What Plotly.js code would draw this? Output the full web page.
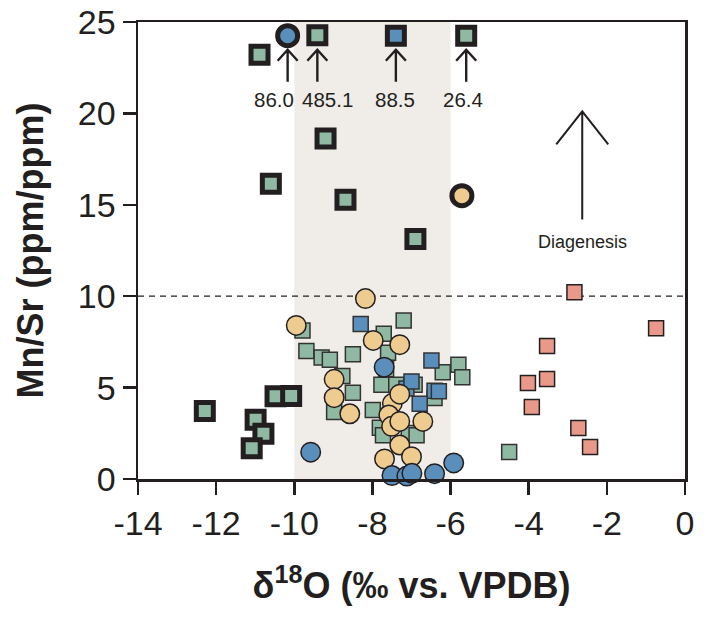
<!DOCTYPE html>
<html>
<head>
<meta charset="utf-8">
<script src="https://cdn.plot.ly/plotly-3.0.1.min.js"></script>
<style>html,body{margin:0;padding:0;background:#fff;}#chart{width:718px;height:617px;}</style>
</head>
<body>
<div id="chart"></div>
<script>
// ---- data ----
const xTicks = [-14, -12, -10, -8, -6, -4, -2, 0];
const xTickLabels = ["-14", "-12", "-10", "-8", "-6", "-4", "-2", "0"];
const yTicks = [0, 5, 10, 15, 20, 25];
const yTickLabels = ["0", "5", "10", "15", "20", "25"];

const greenSqX = [-9.79, -7.20, -7.71, -9.69, -9.30, -9.09, -8.50, -7.60, -7.65, -8.77, -8.50, -8.98, -7.99, -7.77, -7.39, -6.92, -5.80, -6.20, -5.70, -6.41, -7.81, -7.73, -7.07, -6.87, -4.50];
const greenSqY = [8.13, 8.67, 7.95, 7.00, 6.65, 6.53, 6.83, 6.90, 6.00, 5.64, 4.72, 3.67, 3.77, 5.16, 5.16, 5.16, 6.25, 5.84, 5.56, 4.43, 2.80, 2.40, 2.52, 2.40, 1.48];

const blueSqX = [-8.30, -6.49, -7.13, -7.00, -6.41, -6.30, -6.79];
const blueSqY = [8.48, 6.48, 4.95, 5.34, 4.83, 4.80, 4.12];

const tanCircX = [-8.18, -9.95, -7.98, -7.30, -8.98, -8.98, -8.58, -7.49, -7.30, -7.58, -7.51, -7.30, -6.71, -7.30, -7.69, -7.00];
const tanCircY = [9.87, 8.40, 7.58, 7.35, 5.45, 4.45, 3.57, 4.14, 4.64, 3.50, 2.88, 3.15, 3.15, 1.86, 1.10, 1.22];

const blueCircX = [-7.70, -9.58, -7.50, -7.12, -6.99, -6.41, -5.92];
const blueCircY = [6.12, 1.47, 0.19, 0.16, 0.31, 0.29, 0.88];

const salmonSqX = [-2.83, -0.74, -3.53, -3.53, -4.02, -3.92, -2.73, -2.43];
const salmonSqY = [10.21, 8.24, 7.28, 5.47, 5.25, 3.94, 2.79, 1.75];

const boldGreenSqX = [-10.89, -9.41, -9.20, -10.60, -8.69, -6.90, -5.60, -12.29, -10.48, -10.08, -10.99, -10.79, -11.09];
const boldGreenSqY = [23.21, 24.27, 18.63, 16.15, 15.28, 13.13, 24.25, 3.72, 4.52, 4.54, 3.24, 2.48, 1.68];
const boldBlueSqX = [-7.40];
const boldBlueSqY = [24.25];
const boldTanSqX = [-4.21];
const boldTanSqY = [25.18];
const boldBlueCircX = [-10.17];
const boldBlueCircY = [24.25];
const boldTanCircX = [-5.71];
const boldTanCircY = [15.50];

// off-scale values marked with arrows
const offArrowX = [-10.17, -9.41, -7.40, -5.60];
const offArrowTipY = [23.48, 23.48, 23.48, 23.48];
const offLabelX = [-10.51, -9.14, -7.43, -5.67];
const offLabelY = [20.75, 20.75, 20.75, 20.75];
const offLabels = ["86.0", "485.1", "88.5", "26.4"];

const diagArrowX = -2.63;
const diagArrowTipY = 20.11;
const diagLabelY = 12.98;
const diagLabel = "Diagenesis";

const bandRange = [-10, -6];
const mnSrLimit = 10;

// ---- styles ----
const GREEN = '#8fb9a2', BLUE = '#5a8fbb', TAN = '#eecb8f', SALMON = '#e8998a', INK = '#231f20';
const FONT = 'Liberation Sans, Arial, Helvetica, sans-serif';

function mk(x, y, symbol, color, size, lw, lc) {
  return {
    type: 'scatter', mode: 'markers', x: x, y: y, cliponaxis: false, hoverinfo: 'skip',
    marker: {symbol: symbol, color: color, size: size, line: {color: lc, width: lw}}
  };
}

const traces = [
  mk(salmonSqX, salmonSqY, 'square', SALMON, 15, 1.5, INK),
  mk(greenSqX, greenSqY, 'square', GREEN, 15, 1.5, '#333'),
  mk(blueSqX, blueSqY, 'square', BLUE, 15, 1.5, '#333'),
  mk(tanCircX, tanCircY, 'circle', TAN, 19.5, 1.5, INK),
  mk(blueCircX, blueCircY, 'circle', BLUE, 19.5, 1.5, INK),
  mk(boldGreenSqX, boldGreenSqY, 'square', GREEN, 17, 5, INK),
  mk(boldBlueSqX, boldBlueSqY, 'square', BLUE, 17, 5, INK),
  mk(boldTanSqX, boldTanSqY, 'square', TAN, 17, 5, INK),
  mk(boldBlueCircX, boldBlueCircY, 'circle', BLUE, 20, 5, INK),
  mk(boldTanCircX, boldTanCircY, 'circle', TAN, 20, 5, INK)
];

const shapes = [
  {type: 'rect', layer: 'below', xref: 'x', yref: 'paper', x0: bandRange[0], x1: bandRange[1], y0: 0, y1: 1,
   fillcolor: '#f0ece7', line: {width: 0}},
  {type: 'line', layer: 'below', xref: 'paper', yref: 'y', x0: 0, x1: 1, y0: mnSrLimit, y1: mnSrLimit,
   line: {color: INK, width: 1.3, dash: '6px,5px'}}
];
offArrowX.forEach((x, i) => {
  shapes.push({type: 'path', xref: 'x', yref: 'y', xsizemode: 'pixel', ysizemode: 'pixel',
    xanchor: x, yanchor: offArrowTipY[i], path: 'M0,0 L0,-32 M-10,-11 L0,0 L10,-11',
    line: {color: INK, width: 2.4}});
});
shapes.push({type: 'path', xref: 'x', yref: 'y', xsizemode: 'pixel', ysizemode: 'pixel',
  xanchor: diagArrowX, yanchor: diagArrowTipY, path: 'M0,0 L0,-108 M-26,-33 L0,0 L26,-33',
  line: {color: INK, width: 2}});

const annotations = offLabels.map((t, i) => ({
  x: offLabelX[i], y: offLabelY[i], xref: 'x', yref: 'y', text: t, showarrow: false,
  font: {family: FONT, size: 20.5, color: INK}
}));
annotations.push({x: diagArrowX, y: diagLabelY, xref: 'x', yref: 'y', text: diagLabel, showarrow: false,
  font: {family: FONT, size: 18, color: INK}});

const axisCommon = {
  showgrid: false, zeroline: false, showline: true, mirror: true, linecolor: INK, linewidth: 2.5,
  ticks: 'outside', ticklen: 13, tickwidth: 2.5, tickcolor: INK,
  tickfont: {family: FONT, size: 34, color: INK}, fixedrange: true
};

const layout = {
  width: 718, height: 617,
  margin: {l: 138, r: 33, t: 22, b: 138},
  paper_bgcolor: '#fff', plot_bgcolor: '#fff', showlegend: false,
  font: {family: FONT, color: INK},
  xaxis: Object.assign({}, axisCommon, {
    range: [-14, 0], tickvals: xTicks, ticktext: xTickLabels,
    title: {text: 'δ<sup>18</sup>O (‰ vs. VPDB)', font: {family: FONT, size: 36, color: INK, weight: 'bold'}, standoff: 32}
  }),
  yaxis: Object.assign({}, axisCommon, {
    range: [0, 25], tickvals: yTicks, ticktext: yTickLabels,
    title: {text: 'Mn/Sr (ppm/ppm)', font: {family: FONT, size: 36, color: INK, weight: 'bold'}, standoff: 24}
  }),
  shapes: shapes, annotations: annotations
};

Plotly.newPlot('chart', traces, layout, {displayModeBar: false, staticPlot: true});
</script>
</body>
</html>
